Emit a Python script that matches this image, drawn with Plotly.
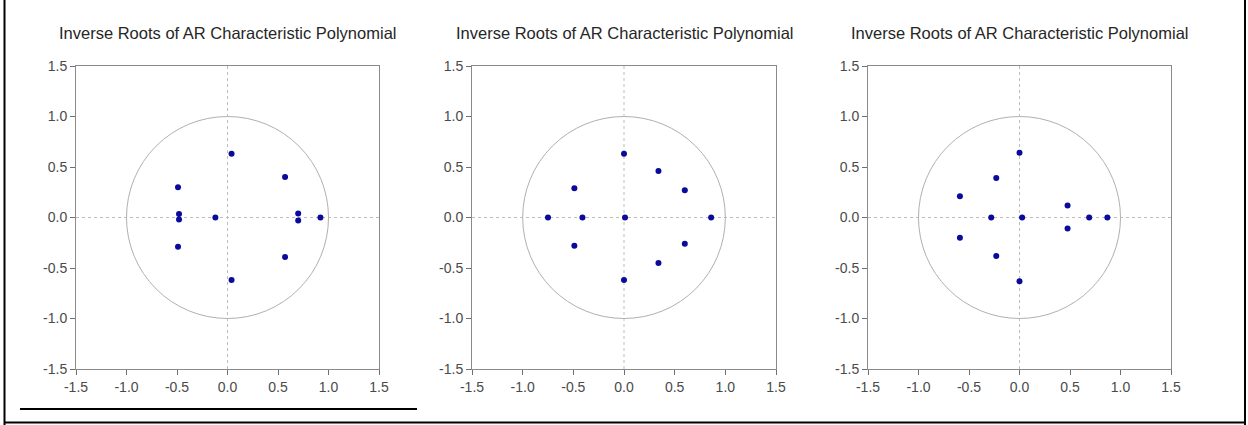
import plotly.graph_objects as go

# Data: inverse roots (real, imaginary) for three models
p1_re = [0.04, 0.04, 0.57, 0.57, -0.49, -0.49, -0.48, -0.48, -0.12, 0.70, 0.70, 0.92]
p1_im = [0.63, -0.62, 0.40, -0.39, 0.30, -0.29, 0.035, -0.02, 0.0, 0.04, -0.03, 0.0]

p2_re = [0.0, 0.0, 0.34, 0.34, 0.60, 0.60, 0.86, -0.49, -0.49, -0.75, -0.41, 0.01]
p2_im = [0.63, -0.62, 0.46, -0.45, 0.27, -0.26, 0.0, 0.29, -0.28, 0.0, 0.0, 0.0]

p3_re = [0.0, 0.0, -0.23, -0.23, -0.59, -0.59, -0.28, 0.026, 0.476, 0.476, 0.69, 0.87]
p3_im = [0.64, -0.63, 0.39, -0.38, 0.21, -0.20, 0.0, 0.0, 0.12, -0.11, 0.0, 0.0]

panels = [(p1_re, p1_im), (p2_re, p2_im), (p3_re, p3_im)]
title_text = "Inverse Roots of AR Characteristic Polynomial"
tick_vals = [-1.5, -1.0, -0.5, 0.0, 0.5, 1.0, 1.5]
tick_text = ["-1.5", "-1.0", "-0.5", "0.0", "0.5", "1.0", "1.5"]

W, H = 1248, 425
x_px = [(76, 379), (472, 776), (868, 1171)]
y_px = (66, 369)

fig = go.Figure()
shapes = []
annotations = []
font_family = "Liberation Sans, Arial, sans-serif"

for i, (re, im) in enumerate(panels):
    n = "" if i == 0 else str(i + 1)
    xa, ya = "x" + n, "y" + n
    fig.add_trace(go.Scatter(
        x=re, y=im, mode="markers", xaxis=xa, yaxis=ya,
        marker=dict(color="#0a0a9c", size=6, line=dict(width=0)),
        showlegend=False, hoverinfo="x+y"))
    axcommon = dict(
        range=[-1.5, 1.5], tickvals=tick_vals, ticktext=tick_text,
        showgrid=False, zeroline=False, showline=True, linecolor="#8a8a8a",
        linewidth=1, mirror=True, ticks="outside", ticklen=5, tickcolor="#707070",
        tickfont=dict(family=font_family, size=14, color="#4a4a4a"),
        automargin=False,
    )
    fig.update_layout(**{
        ("xaxis" + n): dict(axcommon, domain=[x_px[i][0] / W, x_px[i][1] / W], anchor=ya),
        ("yaxis" + n): dict(axcommon, domain=[1 - y_px[1] / H, 1 - y_px[0] / H], anchor=xa),
    })
    # unit circle and dotted zero lines
    shapes.append(dict(type="circle", xref=xa, yref=ya, x0=-1, y0=-1, x1=1, y1=1,
                       line=dict(color="#b0b0b0", width=1), layer="below"))
    shapes.append(dict(type="line", xref=xa, yref=ya, x0=0, x1=0, y0=-1.5, y1=1.5,
                       line=dict(color="#bdbdbd", width=1, dash="dot"), layer="below"))
    shapes.append(dict(type="line", xref=xa, yref=ya, x0=-1.5, x1=1.5, y0=0, y1=0,
                       line=dict(color="#bdbdbd", width=1, dash="dot"), layer="below"))
    annotations.append(dict(
        text=title_text, xref="paper", yref="paper",
        x=(x_px[i][0] + x_px[i][1]) / 2 / W, y=1 - 33 / H,
        xanchor="center", yanchor="middle", showarrow=False,
        font=dict(family=font_family, size=16.5, color="#262626")))

# outer page frame and separator line
shapes += [
    dict(type="line", xref="paper", yref="paper", x0=4.5 / W, x1=4.5 / W, y0=0, y1=1,
         line=dict(color="black", width=2)),
    dict(type="line", xref="paper", yref="paper", x0=1245 / W, x1=1245 / W, y0=0, y1=1,
         line=dict(color="black", width=2)),
    dict(type="line", xref="paper", yref="paper", x0=4 / W, x1=1246 / W, y0=1 - 422.5 / H, y1=1 - 422.5 / H,
         line=dict(color="black", width=2)),
    dict(type="line", xref="paper", yref="paper", x0=20 / W, x1=417 / W, y0=1 - 409 / H, y1=1 - 409 / H,
         line=dict(color="black", width=2)),
]

fig.update_layout(
    width=W, height=H, margin=dict(l=0, r=0, t=0, b=0, autoexpand=False),
    paper_bgcolor="white", plot_bgcolor="white",
    shapes=shapes, annotations=annotations,
    font=dict(family=font_family),
)

fig.write_html("out.html", config={"displayModeBar": False},
               post_script="document.body.style.margin='0px';document.body.style.overflow='hidden';")
